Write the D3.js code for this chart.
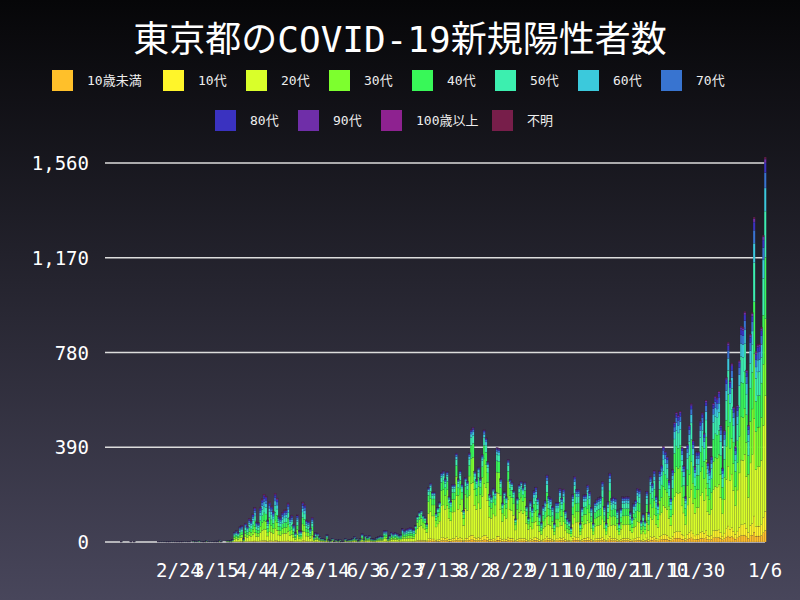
<!DOCTYPE html>
<html><head><meta charset="utf-8">
<script src="https://cdn.jsdelivr.net/npm/d3@7"></script>
<style>body{margin:0;}svg{display:block;}</style>
</head><body><div id="chart"></div>
<script>
// age groups, bottom to top
const groups = ["10歳未満","10代","20代","30代","40代","50代","60代","70代","80代","90代","100歳以上","不明"];
const colors = ["#ffc02a","#fff52a","#d9ff2a","#7dff2e","#38f858","#3cefaf","#3bc9dc","#3874d0","#3a32c0","#6f2ea8","#8e2290","#771e4a"];

// daily totals (Tokyo), from 2020-01-15
const jan = [0,0,0,0,0,0,0,0,0,1,0,0,0,0,1,0,1];
const feb = [0,0,0,0,0,0,0,0,0,0,0,0,1,2,2,2,3,3,1,3,3,1,1,3,3,1,3,2,1];
const mar = [2,0,5,4,4,6,3,1,2,7,2,3,2,1,4,2,8,2,0,0,7,7,6,10,41,47,40,63,68,13,78];
const apr = [66,97,89,116,143,83,80,144,178,197,189,91,166,149,127,201,181,107,102,123,132,134,161,102,111,72,39,112,47,46];
const may = [165,154,91,87,57,102,23,39,36,22,15,15,10,30,9,5,15,3,10,5,11,3,2,14,8,10,11,15,22,14,5];
const jun = [13,34,12,28,20,26,14,13,12,18,22,25,24,47,48,16,27,41,35,39,35,29,31,55,48,54,57,60,58,54];
const jul = [67,107,124,131,111,102,75,224,243,206,206,119,143,165,286,293,260,290,188,168,237,238,366,260,295,239,131,266,250,367,463];
const aug = [472,292,258,309,263,360,462,429,331,197,188,222,206,389,385,260,161,207,186,339,258,247,212,95,182,236,250,226,247,148,100];
const sep = [170,141,211,226,181,116,80,149,170,276,187,181,146,77,163,163,220,181,218,129,98,88,59,195,270,216,217,77,144,194];
const oct = [196,235,207,143,78,164,175,182,186,249,146,78,166,284,178,185,180,132,77,139,186,185,187,186,124,102,158,172,221,215,87];
const nov = [116,87,209,122,270,242,294,189,157,293,317,393,374,352,255,180,298,493,534,522,539,391,314,186,401,481,570,418,311,372];
const dec = [372,500,533,449,584,327,299,352,572,602,595,621,480,305,460,678,822,664,736,556,392,563,748,888,884,949,708,481,856,944,1337];
const jan21 = [783,814,816,884,1262,1584];

// age shares (%) by period
const shareSpring = [1,2,24,18,16,14,9,7,5,2,0.2,1.8];   // until 6/30
const shareSummer = [2,4,46,22,12,7,3,2,1,0.6,0.1,0.3];  // 7/1 - 8/31
const shareAutumn = [3,5,30,20,16,12,6,4,2.5,1,0.1,0.4]; // 9/1 -

const tickLabels = ["2/24","3/15","4/4","4/24","5/14","6/3","6/23","7/13","8/2","8/22","9/11","10/1","10/21","11/10","11/30","1/6"];
const yTicks = [0,390,780,1170,1560];

const W = 800, H = 600;
const totals = [].concat(jan,feb,mar,apr,may,jun,jul,aug,sep,oct,nov,dec,jan21);
const start = new Date(2020,0,15);
const fmt = d3.timeFormat("%-m/%-d");
const rows = totals.map((t,i) => {
  const date = d3.timeDay.offset(start,i);
  const s = date < new Date(2020,6,1) ? shareSpring : date < new Date(2020,8,1) ? shareSummer : shareAutumn;
  const r = {date: fmt(date)};
  groups.forEach((g,k) => r[g] = t*s[k]/100);
  return r;
});

const svg = d3.select("#chart").append("svg").attr("width",W).attr("height",H);
const grad = svg.append("defs").append("linearGradient").attr("id","bg").attr("x1",0).attr("y1",0).attr("x2",0).attr("y2",1);
grad.append("stop").attr("offset","0%").attr("stop-color","#060608");
grad.append("stop").attr("offset","100%").attr("stop-color","#48465b");
svg.append("rect").attr("width",W).attr("height",H).attr("fill","url(#bg)");

svg.append("text").attr("x",W/2).attr("y",52).attr("text-anchor","middle")
  .attr("fill","#fff").attr("font-size",36).attr("font-family","'DejaVu Sans Mono','Noto Sans CJK JP'")
  .text("東京都のCOVID-19新規陽性者数");

// legend
const legendRows = [groups.slice(0,8), groups.slice(8)];
const rowX = [52, 215], rowY = [80, 120];
legendRows.forEach((row,ri) => {
  let x = rowX[ri];
  row.forEach(g => {
    const k = groups.indexOf(g);
    svg.append("rect").attr("x",x).attr("y",rowY[ri]-10).attr("width",21).attr("height",21).attr("fill",colors[k]);
    svg.append("text").attr("x",x+35).attr("y",rowY[ri]+5).attr("fill","#eee").attr("font-size",13)
      .attr("font-family","'DejaVu Sans Mono','Noto Sans CJK JP'").text(g);
    x += g.length > 3 ? 111 : 83;
  });
});

const x = d3.scaleBand().domain(rows.map(d => d.date)).range([104,766]).padding(0);
const y = d3.scaleLinear().domain([0,1560]).range([542,163]);

svg.append("g").selectAll("line").data(yTicks).join("line")
  .attr("x1",105).attr("x2",765).attr("y1",d => y(d)).attr("y2",d => y(d))
  .attr("stroke","#ddd").attr("stroke-width",1.3);
svg.append("g").selectAll("text").data(yTicks).join("text")
  .attr("x",89).attr("y",d => y(d)+7).attr("text-anchor","end").attr("fill","#fff")
  .attr("font-size",19).attr("font-family","'DejaVu Sans Mono'").text(d3.format(","));

const stacked = d3.stack().keys(groups)(rows);
svg.append("g").selectAll("g").data(stacked).join("g")
  .attr("fill",(d,i) => colors[i])
  .selectAll("rect").data(d => d).join("rect")
  .attr("x",d => x(d.data.date)).attr("width",x.bandwidth()+0.3)
  .attr("y",d => y(d[1])).attr("height",d => Math.max(0,y(d[0])-y(d[1])))
  .attr("stroke","rgba(40,30,60,0.6)").attr("stroke-width",0.25);

svg.append("g").selectAll("text").data(tickLabels).join("text")
  .attr("x",d => {
    const [m,dd] = d.split("/").map(Number);
    const dt = new Date(m===1?2021:2020,m-1,dd);
    return x(fmt(dt)) + x.bandwidth()/2;
  })
  .attr("y",577).attr("text-anchor","middle").attr("fill","#fff")
  .attr("font-size",19).attr("font-family","'DejaVu Sans Mono'").text(d => d);
</script></body></html>
